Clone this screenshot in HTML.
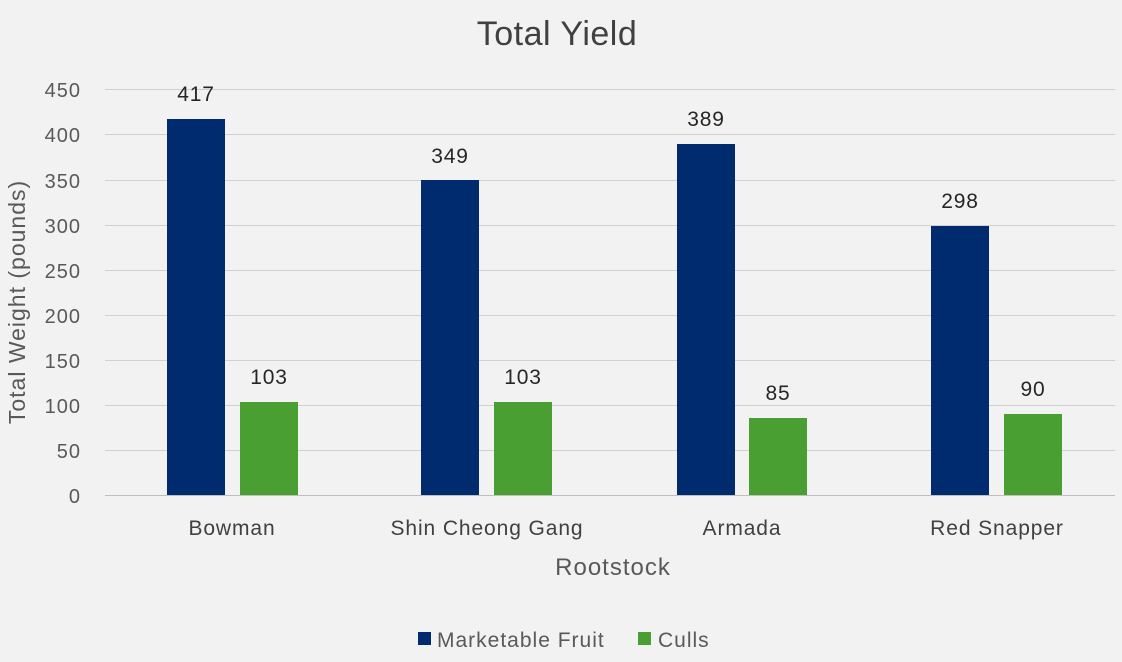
<!DOCTYPE html>
<html><head><meta charset="utf-8"><style>
html,body{margin:0;padding:0;background:#f2f2f2;}
svg{display:block;font-family:"Liberation Sans",Arial,sans-serif;}
</style></head><body>
<svg width="1122" height="662" viewBox="0 0 1122 662" xmlns="http://www.w3.org/2000/svg">
<rect width="1122" height="662" fill="#f2f2f2"/>
<text x="557" y="45" font-size="34" letter-spacing="0.5" text-anchor="middle" fill="#404040">Total Yield</text>
<g stroke="#d0d0d0" stroke-width="1">
<line x1="105" x2="1115" y1="89.5" y2="89.5"/>
<line x1="105" x2="1115" y1="134.5" y2="134.5"/>
<line x1="105" x2="1115" y1="180.5" y2="180.5"/>
<line x1="105" x2="1115" y1="225.5" y2="225.5"/>
<line x1="105" x2="1115" y1="270.5" y2="270.5"/>
<line x1="105" x2="1115" y1="315.5" y2="315.5"/>
<line x1="105" x2="1115" y1="360.5" y2="360.5"/>
<line x1="105" x2="1115" y1="405.5" y2="405.5"/>
<line x1="105" x2="1115" y1="450.5" y2="450.5"/>
</g>
<line x1="105" x2="1115" y1="495.5" y2="495.5" stroke="#bfbfbf"/>
<g font-size="20" letter-spacing="1" fill="#595959" text-anchor="end">
<text x="81" y="97">450</text><text x="81" y="142">400</text><text x="81" y="188">350</text>
<text x="81" y="233">300</text><text x="81" y="278">250</text><text x="81" y="323">200</text>
<text x="81" y="368">150</text><text x="81" y="413">100</text><text x="81" y="458">50</text>
<text x="81" y="503">0</text>
</g>
<text transform="translate(25,302) rotate(-90)" font-size="23" letter-spacing="1" text-anchor="middle" fill="#595959">Total Weight (pounds)</text>
<g fill="#002b6f">
<rect x="167" y="119" width="58" height="376"/>
<rect x="421" y="180" width="58" height="315"/>
<rect x="677" y="144" width="58" height="351"/>
<rect x="931" y="226" width="58" height="269"/>
</g>
<g fill="#4a9f33">
<rect x="240" y="402" width="58" height="93"/>
<rect x="494" y="402" width="58" height="93"/>
<rect x="749" y="418" width="58" height="77"/>
<rect x="1004" y="414" width="58" height="81"/>
</g>
<g font-size="21" letter-spacing="0.8" fill="#262626" text-anchor="middle">
<text x="196" y="101">417</text><text x="450" y="163">349</text>
<text x="706" y="126">389</text><text x="960" y="208">298</text>
<text x="269" y="384">103</text><text x="523" y="384">103</text>
<text x="778" y="400">85</text><text x="1033" y="396">90</text>
</g>
<g font-size="21" letter-spacing="0.9" fill="#404040" text-anchor="middle">
<text x="232" y="535">Bowman</text><text x="487" y="535">Shin Cheong Gang</text>
<text x="742" y="535">Armada</text><text x="997" y="535">Red Snapper</text>
</g>
<text x="613" y="575" font-size="24" letter-spacing="1" text-anchor="middle" fill="#595959">Rootstock</text>
<rect x="418" y="632" width="13" height="13" fill="#002b6f"/>
<text x="437" y="647" font-size="21" letter-spacing="1" fill="#595959">Marketable Fruit</text>
<rect x="638" y="632" width="13" height="13" fill="#4a9f33"/>
<text x="658" y="647" font-size="21" letter-spacing="1" fill="#595959">Culls</text>
</svg>
</body></html>
